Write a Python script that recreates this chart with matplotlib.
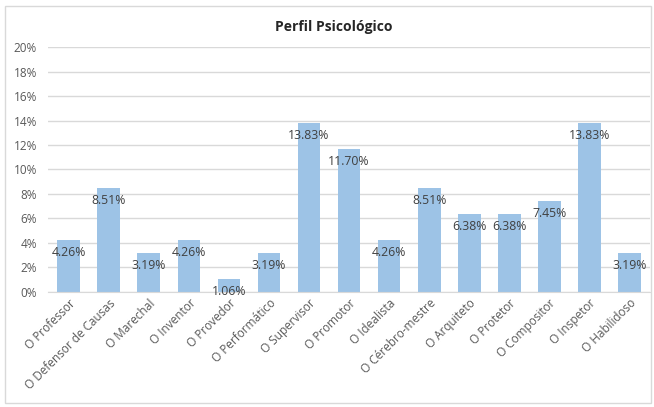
import matplotlib.pyplot as plt
from matplotlib.patches import Rectangle
from matplotlib.ticker import PercentFormatter

perfis = ['O Professor', 'O Defensor de Causas', 'O Marechal', 'O Inventor',
          'O Provedor', 'O Performático', 'O Supervisor', 'O Promotor',
          'O Idealista', 'O Cérebro-mestre', 'O Arquiteto', 'O Protetor',
          'O Compositor', 'O Inspetor', 'O Habilidoso']
porcentagens = [4.26, 8.51, 3.19, 4.26, 1.06, 3.19, 13.83, 11.70,
                4.26, 8.51, 6.38, 6.38, 7.45, 13.83, 3.19]

plt.rcParams['font.family'] = ['Open Sans', 'DejaVu Sans']
cinza = '#595959'

fig = plt.figure(figsize=(6.54, 4.07), dpi=100)
# moldura do gráfico
fig.patches.append(Rectangle((0.008, 0.01), 0.988, 0.975, transform=fig.transFigure,
                             fill=False, edgecolor='#D9D9D9', linewidth=1))

ax = fig.add_axes([0.0734, 0.2826, 0.9206, 0.6019])
x = range(len(perfis))
ax.bar(x, porcentagens, width=0.57, color='#9DC3E6', zorder=2)

# rótulos de porcentagem logo abaixo do topo de cada barra
for i, v in enumerate(porcentagens):
    ax.annotate(f'{v:.2f}%', (i, v), xytext=(0, -13), textcoords='offset pixels',
                ha='center', va='center', fontsize=8.8, color='#404040', zorder=3)

ax.set_ylim(0, 20)
ax.set_xlim(-0.52, len(perfis) - 0.48)
ax.set_yticks(range(0, 21, 2))
ax.yaxis.set_major_formatter(PercentFormatter(decimals=0))
ax.grid(axis='y', color='#D9D9D9', linewidth=1, zorder=0)
for s in ['top', 'right', 'left']:
    ax.spines[s].set_visible(False)
ax.spines['bottom'].set_color('#D9D9D9')
ax.tick_params(axis='both', length=0, colors=cinza, labelsize=8.5)
ax.tick_params(axis='y', pad=8)
ax.set_xticks(list(x))
ax.set_xticklabels(perfis, rotation=45, ha='right', rotation_mode='anchor')

fig.text(0.51, 0.933, 'Perfil Psicológico', ha='center', va='center',
         fontsize=10, fontweight='bold', color='#262626')

plt.savefig('out.png', dpi=100)
